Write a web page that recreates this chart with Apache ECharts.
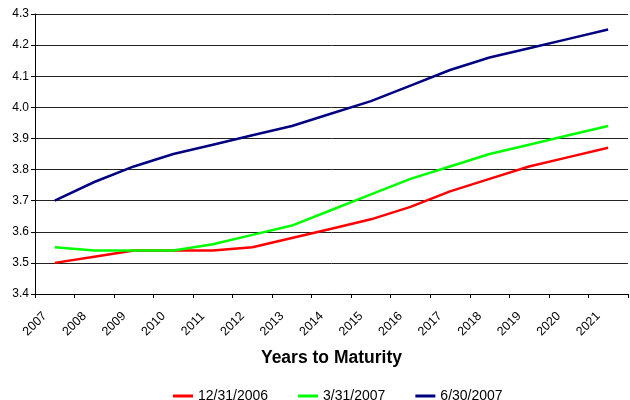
<!DOCTYPE html>
<html>
<head>
<meta charset="utf-8">
<script src="https://cdn.jsdelivr.net/npm/echarts@6/dist/echarts.min.js"></script>
<style>
html,body{margin:0;padding:0;background:#fff;}
#chart{width:630px;height:400px;}
</style>
</head>
<body>
<div id="chart"></div>
<script>
const categories = ['2007','2008','2009','2010','2011','2012','2013','2014','2015','2016','2017','2018','2019','2020','2021'];
const tickLabels = ['2007','2008','2009','2010','2011','2012','2013','2014','2015','2016','2017','2018','2019','2020','2021',''];
const series1Name = '12/31/2006';
const series2Name = '3/31/2007';
const series3Name = '6/30/2007';
const series1 = [3.50,3.52,3.54,3.54,3.54,3.55,3.58,3.61,3.64,3.68,3.73,3.77,3.81,3.84,3.87];
const series2 = [3.55,3.54,3.54,3.54,3.56,3.59,3.62,3.67,3.72,3.77,3.81,3.85,3.88,3.91,3.94];
const series3 = [3.70,3.76,3.81,3.85,3.88,3.91,3.94,3.98,4.02,4.07,4.12,4.16,4.19,4.22,4.25];
const xAxisTitle = 'Years to Maturity';

const font = 'Arial, "Liberation Sans", sans-serif';
const chart = echarts.init(document.getElementById('chart'), null, {renderer:'canvas'});
chart.setOption({
  animation: false,
  backgroundColor: '#ffffff',
  grid: {left: 35, top: 14, width: 600, height: 280, containLabel: false},
  legend: {
    data: [series1Name, series2Name, series3Name],
    left: 168, top: 384,
    icon: 'rect', itemWidth: 20, itemHeight: 3, itemGap: 30,
    textStyle: {fontFamily: font, fontSize: 14, color: '#000'}
  },
  xAxis: [{
    type: 'category',
    data: categories,
    boundaryGap: true,
    position: 'bottom',
    axisLine: {show: true, lineStyle: {color: '#000', width: 1}},
    axisTick: {show: true, length: 4, lineStyle: {color: '#000'}},
    axisLabel: {show: false},
    splitLine: {show: false},
    name: xAxisTitle,
    nameLocation: 'middle',
    nameGap: 55,
    nameTextStyle: {fontFamily: font, fontSize: 17.5, fontWeight: 'bold', color: '#000'}
  }, {
    type: 'category',
    data: tickLabels,
    boundaryGap: false,
    position: 'bottom',
    axisLine: {show: false},
    axisTick: {show: false},
    splitLine: {show: false},
    axisLabel: {
      show: true, interval: 0, rotate: 45, margin: 30,
      align: 'center', verticalAlign: 'middle',
      fontFamily: font, fontSize: 12.5, color: '#000'
    }
  }],
  yAxis: {
    type: 'value',
    min: 3.4, max: 4.3, interval: 0.1,
    axisLine: {show: true, lineStyle: {color: '#000', width: 1}},
    axisTick: {show: true, length: 4, lineStyle: {color: '#000'}},
    axisLabel: {margin: 6, fontFamily: font, fontSize: 12, color: '#000',
      formatter: v => (Math.round(v * 10) / 10).toFixed(1)},
    splitLine: {show: true, lineStyle: {color: '#222', width: 1}}
  },
  series: [
    {name: series1Name, type: 'line', data: series1, xAxisIndex: 0, showSymbol: false, symbol: 'none',
     itemStyle: {color: '#ff0000'}, lineStyle: {color: '#ff0000', width: 2.5}},
    {name: series2Name, type: 'line', data: series2, xAxisIndex: 0, showSymbol: false, symbol: 'none',
     itemStyle: {color: '#00ff00'}, lineStyle: {color: '#00ff00', width: 2.5}},
    {name: series3Name, type: 'line', data: series3, xAxisIndex: 0, showSymbol: false, symbol: 'none',
     itemStyle: {color: '#000080'}, lineStyle: {color: '#000080', width: 2.5}}
  ]
});
</script>
</body>
</html>
